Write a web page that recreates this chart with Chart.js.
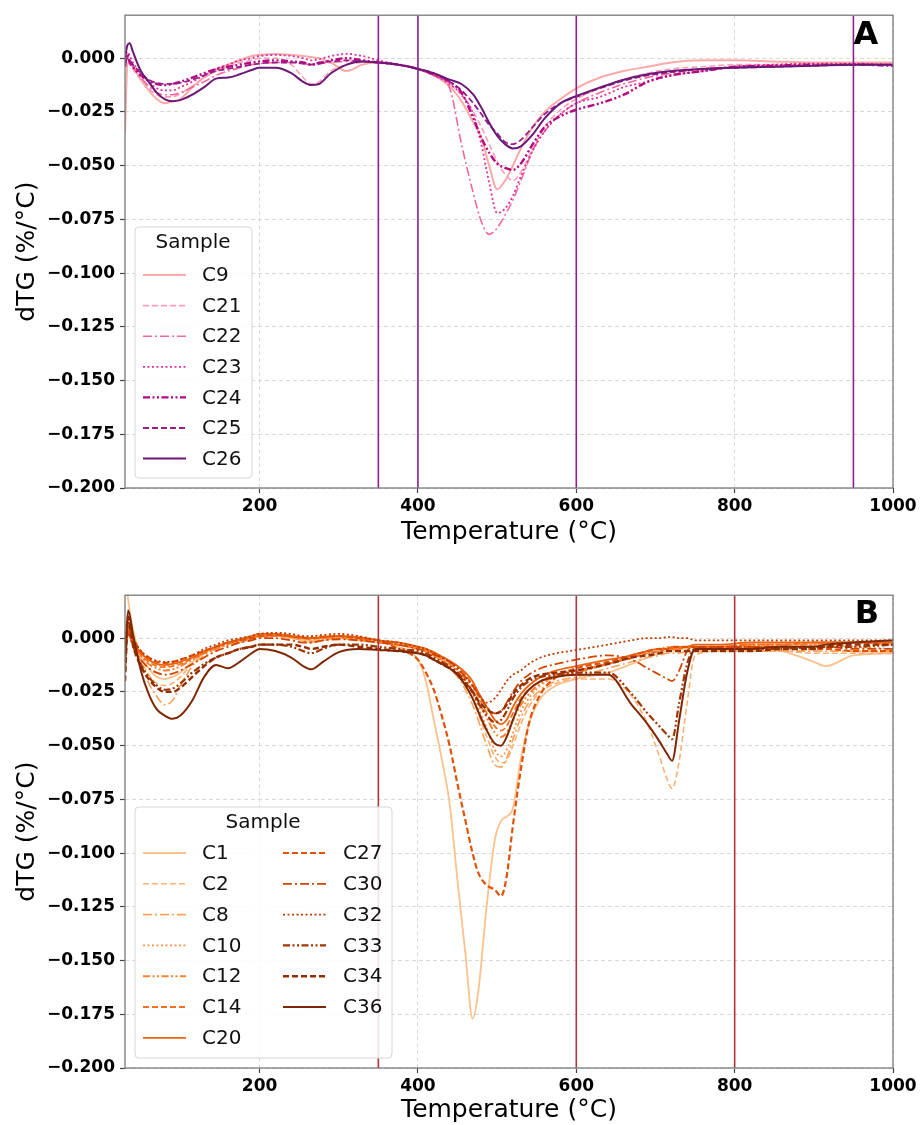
<!DOCTYPE html>
<html>
<head>
<meta charset="utf-8">
<script src="https://cdn.jsdelivr.net/npm/chart.js@4.4.1/dist/chart.umd.min.js"></script>
<style>
    html, body { margin: 0; padding: 0; background: #fff; }
    #wrap { position: relative; width: 922px; height: 1125px; }
    .panel { position: absolute; left: 0; width: 922px; }
    #panelA { top: 0; height: 560px; }
    #panelB { top: 580px; height: 545px; }
</style>
</head>
<body>
<div id="wrap">
    <div class="panel" id="panelA"><canvas id="chartA" width="922" height="560"></canvas></div>
    <div class="panel" id="panelB"><canvas id="chartB" width="922" height="545"></canvas></div>
</div>
<script>
// ---------------------------------------------------------------------
//  dTG curves, panel A (C9, C21-C26) and panel B (Oranges series)
// ---------------------------------------------------------------------

const xTicks = [200, 400, 600, 800, 1000];
const yTicks = [-0.2, -0.175, -0.15, -0.125, -0.1, -0.075, -0.05, -0.025, 0];
const xRange = [30, 1000];
const yRange = [-0.2, 0.02];

// ---- Panel A ----
const tempA = [30, 33, 36, 40, 50, 60, 70, 80, 90, 100,
    115, 130, 145, 160, 175, 190, 200, 220, 240, 255,
    265, 275, 290, 310, 330, 350, 375, 400, 420, 440,
    455, 470, 480, 490, 500, 510, 520, 530, 545, 560,
    580, 600, 630, 660, 690, 720, 760, 800, 850, 900,
    950, 1000];

const samplesA = ["C9", "C21", "C22", "C23", "C24", "C25", "C26"];

const dtgC9 = [-0.035, -0.003, -0.002, -0.004, -0.010, -0.015, -0.019, -0.021, -0.020, -0.019,
    -0.0135, -0.009, -0.0055, -0.003, -0.001, 0.001, 0.0015, 0.002, 0.0015, 0.001,
    0.0005, 0.000, -0.002, -0.006, -0.003, -0.002, -0.003, -0.005, -0.008, -0.013,
    -0.020, -0.030, -0.037, -0.050, -0.061, -0.057, -0.050, -0.042, -0.032, -0.025,
    -0.019, -0.014, -0.009, -0.006, -0.004, -0.002, -0.001, -0.001, -0.0015, -0.002,
    -0.002, -0.002];
const dtgC21 = [-0.003, 0.000, -0.002, -0.005, -0.010, -0.014, -0.017, -0.018, -0.018, -0.0165,
    -0.013, -0.009, -0.006, -0.004, -0.002, -0.001, 0.000, 0.000, -0.003, -0.009,
    -0.012, -0.011, -0.006, -0.003, -0.002, -0.002, -0.003, -0.005, -0.008, -0.012,
    -0.017, -0.025, -0.032, -0.040, -0.048, -0.054, -0.057, -0.053, -0.042, -0.032,
    -0.024, -0.019, -0.014, -0.010, -0.007, -0.005, -0.004, -0.003, -0.003, -0.0025,
    -0.0025, -0.003];
const dtgC22 = [-0.002, 0.001, -0.001, -0.004, -0.009, -0.013, -0.016, -0.017, -0.017, -0.016,
    -0.0135, -0.011, -0.008, -0.006, -0.0045, -0.003, -0.0025, -0.002, -0.002, -0.0025,
    -0.003, -0.0025, -0.002, -0.0015, -0.0015, -0.002, -0.003, -0.005, -0.008, -0.014,
    -0.040, -0.063, -0.076, -0.082, -0.079, -0.073, -0.066, -0.057, -0.043, -0.034,
    -0.026, -0.021, -0.016, -0.012, -0.009, -0.007, -0.005, -0.004, -0.0035, -0.003,
    -0.003, -0.003];
const dtgC23 = [0.000, 0.003, 0.001, -0.002, -0.007, -0.011, -0.014, -0.015, -0.015, -0.0135,
    -0.011, -0.008, -0.005, -0.003, -0.001, 0.000, 0.001, 0.0015, 0.001, 0.000,
    -0.001, -0.0005, 0.001, 0.002, 0.001, -0.001, -0.003, -0.005, -0.008, -0.012,
    -0.017, -0.026, -0.040, -0.058, -0.072, -0.070, -0.064, -0.055, -0.043, -0.034,
    -0.026, -0.021, -0.018, -0.0135, -0.011, -0.008, -0.006, -0.004, -0.003, -0.0025,
    -0.0025, -0.003];
const dtgC24 = [-0.004, 0.002, -0.002, -0.004, -0.008, -0.0105, -0.012, -0.0125, -0.012, -0.011,
    -0.009, -0.007, -0.005, -0.004, -0.003, -0.002, -0.0015, -0.001, -0.0015, -0.002,
    -0.003, -0.0025, -0.001, 0.000, -0.001, -0.002, -0.003, -0.005, -0.0075, -0.011,
    -0.016, -0.028, -0.037, -0.044, -0.049, -0.051, -0.052, -0.049, -0.040, -0.032,
    -0.027, -0.024, -0.021, -0.017, -0.011, -0.008, -0.006, -0.004, -0.0035, -0.003,
    -0.003, -0.0035];
const dtgC25 = [-0.002, 0.000, -0.001, -0.003, -0.007, -0.010, -0.0115, -0.012, -0.012, -0.0115,
    -0.010, -0.008, -0.006, -0.005, -0.004, -0.003, -0.0025, -0.002, -0.002, -0.0025,
    -0.003, -0.002, -0.0015, -0.001, -0.0015, -0.002, -0.003, -0.005, -0.007, -0.011,
    -0.015, -0.021, -0.026, -0.031, -0.035, -0.039, -0.040, -0.038, -0.032, -0.026,
    -0.021, -0.018, -0.014, -0.0105, -0.008, -0.0065, -0.005, -0.0045, -0.004, -0.0035,
    -0.003, -0.003];
const dtgC26 = [0.000, 0.006, 0.007, 0.003, -0.006, -0.011, -0.016, -0.019, -0.020, -0.0195,
    -0.017, -0.0135, -0.0095, -0.009, -0.0075, -0.0055, -0.0045, -0.0045, -0.007, -0.011,
    -0.0125, -0.012, -0.007, -0.003, -0.0015, -0.002, -0.003, -0.005, -0.007, -0.010,
    -0.012, -0.017, -0.023, -0.030, -0.036, -0.040, -0.042, -0.041, -0.0355, -0.028,
    -0.021, -0.0176, -0.0136, -0.010, -0.0075, -0.006, -0.005, -0.0045, -0.004, -0.0035,
    -0.003, -0.003];

const seriesA = [dtgC9, dtgC21, dtgC22, dtgC23, dtgC24, dtgC25, dtgC26];
const colorsA = ["#fbaaa8", "#f99fb8", "#f5669f", "#e0329a", "#b5097f", "#9a1c8c", "#6b1877"];
const stylesA = ["solid", "dashed", "dashdot", "dotted", "dashdotdot", "dashed", "solid"];
const widthsA = [2, 1.6, 1.6, 1.8, 2.4, 1.8, 2];
const eventLinesA = [350, 400, 600, 950];

// ---- Panel B ----
const tempB = [30, 34, 40, 50, 60, 70, 80, 90, 100, 115,
    130, 145, 160, 175, 190, 200, 220, 240, 255, 265,
    280, 300, 325, 350, 375, 400, 410, 420, 430, 440,
    450, 460, 469, 476, 487, 497, 505, 512, 520, 530,
    540, 555, 575, 600, 640, 670, 690, 705, 715, 721,
    730, 740, 750, 780, 820, 860, 900, 915, 950, 1000];

const samplesB = ["C1", "C2", "C8", "C10", "C12", "C14", "C20", "C27", "C30", "C32", "C33", "C34", "C36"];

const dtgC1 = [0.030, 0.018, 0.004, -0.008, -0.014, -0.018, -0.019, -0.018, -0.016, -0.011,
    -0.007, -0.004, -0.002, -0.001, 0.000, 0.001, 0.001, 0.000, -0.001, -0.002,
    -0.001, 0.000, -0.001, -0.002, -0.004, -0.010, -0.020, -0.038, -0.056, -0.077,
    -0.113, -0.147, -0.177, -0.165, -0.124, -0.094, -0.085, -0.083, -0.079, -0.056,
    -0.040, -0.028, -0.022, -0.019, -0.016, -0.012, -0.009, -0.007, -0.006, -0.006,
    -0.005, -0.005, -0.004, -0.004, -0.004, -0.006, -0.011, -0.013, -0.008, -0.007];
const dtgC2 = [0.005, 0.008, 0.000, -0.010, -0.017, -0.021, -0.022, -0.021, -0.018, -0.012,
    -0.007, -0.004, -0.002, -0.001, 0.000, 0.001, 0.0015, 0.001, 0.000, -0.001,
    0.000, 0.000, -0.001, -0.002, -0.003, -0.005, -0.006, -0.008, -0.010, -0.013,
    -0.017, -0.022, -0.028, -0.035, -0.046, -0.055, -0.058, -0.057, -0.050, -0.040,
    -0.032, -0.025, -0.021, -0.019, -0.019, -0.027, -0.040, -0.055, -0.066, -0.070,
    -0.057, -0.030, -0.008, -0.006, -0.006, -0.006, -0.007, -0.007, -0.007, -0.007];
const dtgC8 = [-0.002, 0.004, -0.002, -0.012, -0.021, -0.027, -0.031, -0.029, -0.022, -0.013,
    -0.008, -0.005, -0.003, -0.001, 0.000, 0.0005, 0.001, 0.000, -0.001, -0.0015,
    -0.001, 0.000, -0.001, -0.002, -0.003, -0.005, -0.006, -0.008, -0.011, -0.014,
    -0.018, -0.024, -0.031, -0.038, -0.050, -0.059, -0.060, -0.056, -0.047, -0.037,
    -0.030, -0.024, -0.020, -0.018, -0.014, -0.011, -0.009, -0.008, -0.007, -0.007,
    -0.007, -0.006, -0.006, -0.006, -0.006, -0.006, -0.006, -0.006, -0.006, -0.006];
const dtgC10 = [-0.003, 0.006, 0.000, -0.007, -0.010, -0.012, -0.013, -0.0125, -0.011, -0.009,
    -0.006, -0.004, -0.002, -0.001, 0.001, 0.002, 0.002, 0.001, 0.000, 0.000,
    0.001, 0.001, 0.000, -0.001, -0.003, -0.005, -0.006, -0.008, -0.010, -0.012,
    -0.015, -0.020, -0.026, -0.032, -0.042, -0.052, -0.055, -0.052, -0.044, -0.034,
    -0.028, -0.022, -0.018, -0.016, -0.012, -0.008, -0.006, -0.005, -0.004, -0.004,
    -0.004, -0.004, -0.004, -0.004, -0.003, -0.003, -0.003, -0.003, -0.004, -0.005];
const dtgC12 = [-0.004, 0.004, -0.002, -0.008, -0.012, -0.014, -0.015, -0.0145, -0.013, -0.010,
    -0.007, -0.005, -0.003, -0.002, 0.000, 0.001, 0.0015, 0.001, 0.000, -0.0005,
    0.000, 0.0005, -0.0005, -0.002, -0.003, -0.005, -0.006, -0.008, -0.010, -0.012,
    -0.015, -0.019, -0.024, -0.029, -0.037, -0.044, -0.046, -0.044, -0.038, -0.031,
    -0.026, -0.021, -0.018, -0.016, -0.012, -0.009, -0.007, -0.006, -0.005, -0.005,
    -0.005, -0.004, -0.004, -0.004, -0.003, -0.003, -0.003, -0.002, -0.002, -0.002];
const dtgC14 = [-0.005, 0.002, -0.003, -0.008, -0.011, -0.013, -0.0135, -0.013, -0.012, -0.0095,
    -0.007, -0.004, -0.0025, -0.001, 0.000, 0.001, 0.001, 0.0005, 0.000, 0.000,
    0.0005, 0.001, 0.000, -0.001, -0.003, -0.004, -0.005, -0.007, -0.009, -0.011,
    -0.013, -0.017, -0.022, -0.027, -0.035, -0.041, -0.043, -0.041, -0.035, -0.028,
    -0.024, -0.020, -0.017, -0.015, -0.012, -0.009, -0.007, -0.006, -0.005, -0.005,
    -0.005, -0.004, -0.004, -0.004, -0.003, -0.003, -0.002, -0.002, -0.002, -0.003];
const dtgC20 = [-0.006, 0.003, -0.002, -0.007, -0.010, -0.012, -0.0125, -0.012, -0.011, -0.009,
    -0.006, -0.004, -0.002, -0.0005, 0.001, 0.002, 0.002, 0.001, 0.0005, 0.000,
    0.0005, 0.001, 0.0005, -0.001, -0.002, -0.004, -0.005, -0.0065, -0.0085, -0.0105,
    -0.013, -0.016, -0.020, -0.025, -0.032, -0.038, -0.040, -0.038, -0.032, -0.026,
    -0.022, -0.018, -0.015, -0.013, -0.010, -0.008, -0.006, -0.005, -0.005, -0.004,
    -0.004, -0.004, -0.003, -0.003, -0.002, -0.002, -0.002, -0.002, -0.002, -0.002];
const dtgC27 = [-0.004, 0.005, 0.000, -0.006, -0.009, -0.011, -0.0115, -0.011, -0.010, -0.008,
    -0.006, -0.004, -0.002, -0.001, 0.000, 0.001, 0.0015, 0.001, 0.000, 0.000,
    0.0005, 0.001, 0.000, -0.001, -0.005, -0.010, -0.016, -0.024, -0.036, -0.050,
    -0.068, -0.085, -0.100, -0.109, -0.115, -0.117, -0.120, -0.111, -0.087, -0.061,
    -0.040, -0.026, -0.018, -0.014, -0.011, -0.008, -0.006, -0.005, -0.005, -0.004,
    -0.004, -0.004, -0.004, -0.004, -0.004, -0.004, -0.005, -0.005, -0.006, -0.006];
const dtgC30 = [-0.008, 0.002, -0.004, -0.010, -0.014, -0.016, -0.017, -0.0165, -0.015, -0.012,
    -0.009, -0.006, -0.004, -0.002, -0.001, 0.000, 0.000, -0.001, -0.002, -0.002,
    -0.001, -0.0005, -0.001, -0.002, -0.003, -0.005, -0.006, -0.0075, -0.009, -0.011,
    -0.014, -0.018, -0.022, -0.026, -0.032, -0.035, -0.034, -0.030, -0.025, -0.020,
    -0.017, -0.014, -0.012, -0.010, -0.008, -0.010, -0.014, -0.017, -0.019, -0.020,
    -0.015, -0.006, -0.004, -0.004, -0.004, -0.004, -0.004, -0.004, -0.005, -0.005];
const dtgC32 = [-0.002, 0.006, 0.000, -0.006, -0.009, -0.0105, -0.011, -0.011, -0.010, -0.008,
    -0.005, -0.003, -0.001, 0.000, 0.001, 0.002, 0.0025, 0.002, 0.001, 0.001,
    0.0015, 0.002, 0.001, -0.001, -0.002, -0.004, -0.005, -0.007, -0.009, -0.011,
    -0.014, -0.018, -0.022, -0.026, -0.030, -0.028, -0.024, -0.020, -0.017, -0.015,
    -0.012, -0.009, -0.007, -0.0055, -0.003, -0.001, 0.000, 0.000, 0.0005, 0.0005,
    0.000, 0.000, -0.001, -0.001, -0.001, -0.001, -0.001, -0.001, -0.001, -0.001];
const dtgC33 = [-0.015, 0.008, -0.002, -0.012, -0.018, -0.022, -0.024, -0.0235, -0.021, -0.016,
    -0.012, -0.009, -0.007, -0.005, -0.004, -0.003, -0.003, -0.004, -0.006, -0.007,
    -0.005, -0.003, -0.003, -0.004, -0.005, -0.006, -0.007, -0.009, -0.011, -0.013,
    -0.016, -0.020, -0.025, -0.030, -0.036, -0.039, -0.038, -0.034, -0.028, -0.023,
    -0.020, -0.018, -0.017, -0.016, -0.016, -0.026, -0.035, -0.041, -0.045, -0.047,
    -0.030, -0.012, -0.005, -0.005, -0.005, -0.005, -0.004, -0.004, -0.004, -0.003];
const dtgC34 = [-0.020, 0.010, -0.003, -0.013, -0.019, -0.023, -0.025, -0.025, -0.023, -0.018,
    -0.013, -0.009, -0.007, -0.005, -0.004, -0.003, -0.003, -0.003, -0.004, -0.005,
    -0.004, -0.003, -0.004, -0.005, -0.006, -0.007, -0.008, -0.010, -0.012, -0.014,
    -0.017, -0.021, -0.025, -0.029, -0.033, -0.035, -0.034, -0.031, -0.026, -0.022,
    -0.019, -0.017, -0.016, -0.015, -0.012, -0.009, -0.008, -0.007, -0.006, -0.006,
    -0.006, -0.006, -0.006, -0.006, -0.006, -0.005, -0.005, -0.004, -0.003, -0.003];
const dtgC36 = [-0.010, 0.013, 0.002, -0.015, -0.026, -0.033, -0.036, -0.0375, -0.036, -0.029,
    -0.018, -0.0125, -0.014, -0.011, -0.007, -0.005, -0.006, -0.009, -0.013, -0.0145,
    -0.011, -0.0065, -0.005, -0.0055, -0.006, -0.007, -0.008, -0.010, -0.012, -0.014,
    -0.017, -0.022, -0.028, -0.034, -0.043, -0.049, -0.050, -0.046, -0.038, -0.029,
    -0.024, -0.020, -0.018, -0.017, -0.017, -0.031, -0.040, -0.048, -0.054, -0.057,
    -0.038, -0.016, -0.005, -0.005, -0.005, -0.004, -0.004, -0.003, -0.002, -0.001];

const seriesB = [dtgC1, dtgC2, dtgC8, dtgC10, dtgC12, dtgC14, dtgC20,
    dtgC27, dtgC30, dtgC32, dtgC33, dtgC34, dtgC36];
const colorsB = ["#fdc18b", "#fdb273", "#fda25a", "#fd9243", "#fb812f", "#f4701c", "#ed6210",
    "#e05208", "#d14501", "#bc3e02", "#a13603", "#912f04", "#7f2704"];
const stylesB = ["solid", "dashed", "dashdot", "dotted", "dashdotdot", "dashed", "solid",
    "dashed", "dashdot", "dotted", "dashdotdot", "dashed", "solid"];
const widthsB = [1.8, 1.6, 1.6, 1.8, 2, 1.8, 1.8, 2.2, 1.8, 1.8, 2.2, 2.4, 2];
const eventLinesB = [350, 600, 800];

// ---------------------------------------------------------------------

const FONT = "'DejaVu Sans', 'Liberation Sans', sans-serif";
const DASH = {
    solid: [],
    dashed: [6, 3],
    dashdot: [9, 3, 2, 3],
    dotted: [2, 2.5],
    dashdotdot: [7, 2.5, 2, 2.5, 2, 2.5],
};

function curveSets(temps, names, series, colors, styles, widths) {
    return names.map((name, i) => ({
        label: name,
        data: temps.map((t, k) => ({ x: t, y: series[i][k] })),
        borderColor: colors[i],
        backgroundColor: colors[i],
        borderWidth: widths[i],
        borderDash: DASH[styles[i]],
        pointRadius: 0,
        cubicInterpolationMode: "monotone",
        fill: false,
        order: names.length - i + 5,   // last sample on top, like matplotlib
    }));
}

function eventSets(xs, color) {
    return xs.map((x) => ({
        label: "",
        isEvent: true,
        data: [{ x, y: yRange[0] }, { x, y: yRange[1] }],
        borderColor: color,
        borderWidth: 1.6,
        pointRadius: 0,
        order: 0,
    }));
}

// frame + legend + panel letter, drawn over the data
const decoPlugin = {
    id: "deco",
    afterDraw(chart, args, opts) {
        const ctx = chart.ctx;
        const a = chart.chartArea;
        ctx.save();

        // four-sided frame
        ctx.strokeStyle = "#7a7a7a";
        ctx.lineWidth = 1.3;
        ctx.setLineDash([]);
        ctx.strokeRect(a.left, a.top, a.right - a.left, a.bottom - a.top);

        // legend box
        const lg = opts.legend;
        ctx.fillStyle = "rgba(255,255,255,0.85)";
        ctx.strokeStyle = "#d6d6d6";
        ctx.lineWidth = 1;
        ctx.beginPath();
        ctx.roundRect(lg.left, lg.top, lg.width, lg.height, 4);
        ctx.fill();
        ctx.stroke();

        ctx.fillStyle = "#111";
        ctx.font = `20px ${FONT}`;
        ctx.textAlign = "center";
        ctx.textBaseline = "middle";
        ctx.fillText("Sample", lg.titleX, lg.titleY);

        const items = chart.data.datasets.filter((d) => !d.isEvent);
        ctx.textAlign = "left";
        items.forEach((d, i) => {
            const col = lg.cols[Math.floor(i / lg.perCol)];
            const y = lg.rowY0 + (i % lg.perCol) * lg.rowStep;
            ctx.strokeStyle = d.borderColor;
            ctx.lineWidth = d.borderWidth;
            ctx.setLineDash(d.borderDash || []);
            ctx.beginPath();
            ctx.moveTo(col.lineX, y);
            ctx.lineTo(col.lineX + 43, y);
            ctx.stroke();
            ctx.setLineDash([]);
            ctx.fillStyle = "#111";
            ctx.fillText(d.label, col.textX, y + 1);
        });

        // panel letter
        ctx.fillStyle = "#000";
        ctx.font = `bold 32px ${FONT}`;
        ctx.textAlign = "center";
        ctx.textBaseline = "middle";
        ctx.fillText(opts.tag.text, opts.tag.x, opts.tag.y);
        ctx.restore();
    },
};

function fmtY(v) {
    if (Math.abs(v) < 1e-9) return "0.000";
    return (v < 0 ? "\u2212" : "") + Math.abs(v).toFixed(3);
}

function makeChart(canvasId, datasets, xAxisH, titleBottomPad, legend, tag) {
    return new Chart(document.getElementById(canvasId), {
        type: "line",
        data: { datasets },
        plugins: [decoPlugin],
        options: {
            responsive: false,
            animation: false,
            events: [],
            layout: { padding: { top: 14, right: 29, left: 0, bottom: 0 } },
            plugins: {
                legend: { display: false },
                tooltip: { enabled: false },
                deco: { legend, tag },
            },
            scales: {
                x: {
                    type: "linear",
                    min: xRange[0],
                    max: xRange[1],
                    afterBuildTicks: (s) => { s.ticks = xTicks.map((v) => ({ value: v })); },
                    afterFit: (s) => { s.height = xAxisH; },
                    grid: { color: "#d9d9d9", lineWidth: 1, tickLength: 5, tickColor: "#444", tickWidth: 1.2 },
                    border: { display: false, dash: [4, 3] },
                    ticks: {
                        font: { family: FONT, size: 17, weight: "bold" },
                        color: "#000",
                        padding: 3,
                        maxRotation: 0,
                        autoSkip: false,
                        callback: (v) => String(v),
                    },
                    title: {
                        display: true,
                        text: "Temperature (°C)",
                        font: { family: FONT, size: 25 },
                        color: "#000",
                        padding: { top: 0, bottom: titleBottomPad },
                    },
                },
                y: {
                    type: "linear",
                    min: yRange[0],
                    max: yRange[1],
                    afterBuildTicks: (s) => { s.ticks = yTicks.map((v) => ({ value: v })); },
                    afterFit: (s) => { s.width = 125; },
                    grid: { color: "#d9d9d9", lineWidth: 1, tickLength: 5, tickColor: "#444", tickWidth: 1.2 },
                    border: { display: false, dash: [4, 3] },
                    ticks: {
                        font: { family: FONT, size: 17, weight: "bold" },
                        color: "#000",
                        padding: 5,
                        autoSkip: false,
                        callback: (v) => fmtY(v),
                    },
                    title: {
                        display: true,
                        text: "dTG (%/°C)",
                        font: { family: FONT, size: 25 },
                        color: "#000",
                        padding: { top: 12, bottom: 0 },
                    },
                },
            },
        },
    });
}

const legendA = {
    left: 135, top: 227, width: 117, height: 251,
    titleX: 193, titleY: 243, rowY0: 275, rowStep: 30.6, perCol: 7,
    cols: [{ lineX: 143, textX: 202 }],
};
const legendB = {
    left: 135, top: 227, width: 257, height: 251,
    titleX: 263, titleY: 243, rowY0: 273, rowStep: 30.8, perCol: 7,
    cols: [{ lineX: 143, textX: 202 }, { lineX: 283, textX: 343 }],
};

makeChart("chartA",
    [...curveSets(tempA, samplesA, seriesA, colorsA, stylesA, widthsA), ...eventSets(eventLinesA, "#8e1f8e")],
    72, 13, legendA, { text: "A", x: 866, y: 36 });

makeChart("chartB",
    [...curveSets(tempB, samplesB, seriesB, colorsB, stylesB, widthsB), ...eventSets(eventLinesB, "#b0343a")],
    57, 0, legendB, { text: "B", x: 867, y: 35 });
</script>
</body>
</html>
